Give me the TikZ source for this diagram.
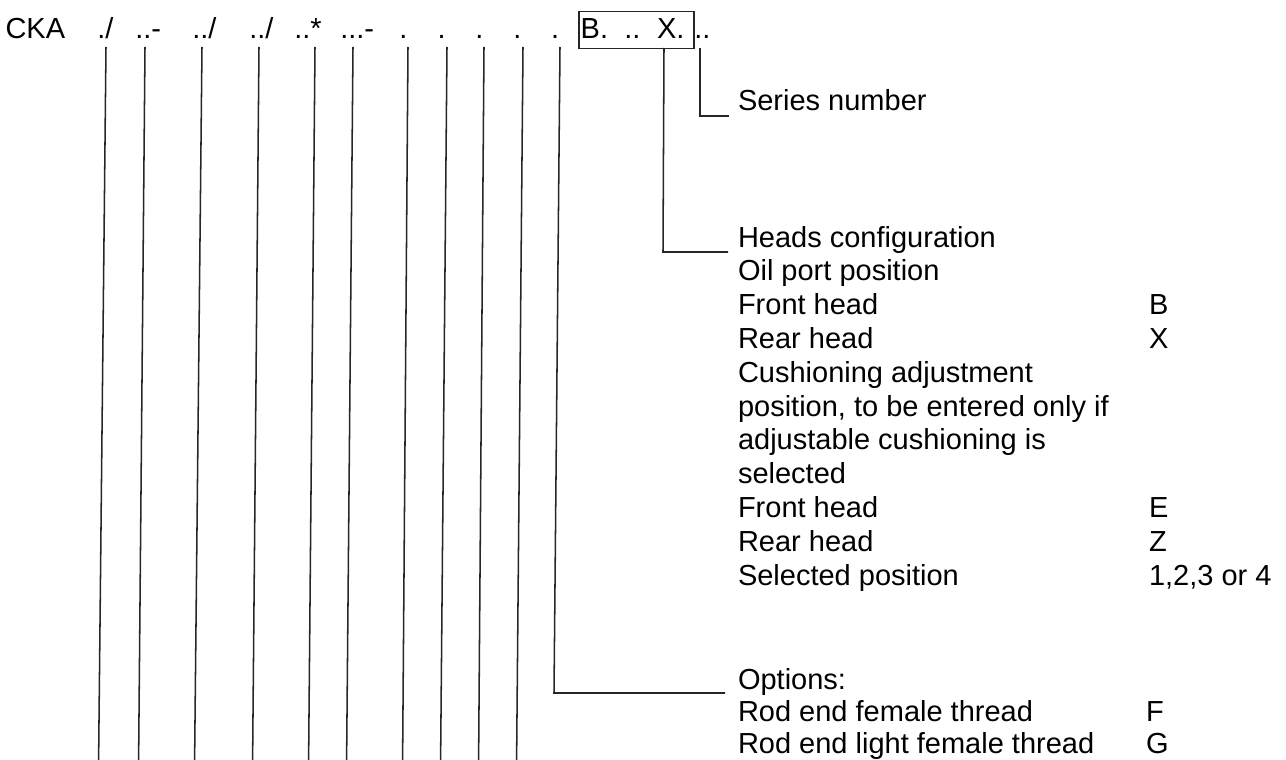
\documentclass[tikz,border=0pt]{standalone}
\usepackage{fontspec}
\setmainfont{Liberation Sans}
\begin{document}
\begin{tikzpicture}[x=0.75pt,y=-0.75pt,
  lbl/.style={anchor=base west, inner sep=0pt, outer sep=0pt, font=\fontsize{21.75pt}{25pt}\selectfont, text=black},
  wire/.style={line width=1.15pt, draw=black!85},
  codebox/.style={draw=black!85, line width=0.9pt, inner sep=0pt, minimum width=86.25pt, minimum height=27.2pt}
]
\useasboundingbox (0,0) rectangle (1286,760);

% ---- top row: order code ----
\node[lbl] (cka) at (5.5,38) {CKA};
\node[lbl] (k1) at (97.3,38) {./};
\node[lbl] (k2) at (135.3,38) {..-};
\node[lbl] (k3) at (192.3,38) {../};
\node[lbl] (k4) at (249.3,38) {../};
\node[lbl] (k5) at (294.3,38) {..*};
\node[lbl] (k6) at (340.3,38) {...-};
\node[lbl] (k7) at (399.3,38) {.};
\node[lbl] (k8) at (437.7,38) {.};
\node[lbl] (k9) at (475.3,38) {.};
\node[lbl] (k10) at (513.3,38) {.};
\node[lbl] (k11) at (551,38) {.};
\node[codebox] (box) at (636.5,30) {};
\node[lbl] (kb) at (580.7,38) {B.};
\node[lbl] (kd) at (624.3,38) {..};
\node[lbl] (kx) at (657,38) {X.};
\node[lbl] (ks) at (694.3,38) {..};

% ---- vertical leaders ----
\foreach \i/\xt/\xb in {1/106/98.6, 2/145/138.6, 3/202/194.6, 4/259/252.6, 5/315/308.6,
                        6/353/346.6, 7/408/402.6, 8/447/440.6, 9/484/478.6, 10/523/516.6} {
  \coordinate (t\i) at (\xt,47);
  \coordinate (b\i) at (\xb,760);
  \draw[wire] (t\i) -- (b\i);
}

% options leader
\coordinate (t11) at (560,47);
\coordinate (c11) at (554,693);
\coordinate (e11) at (725,693);
\draw[wire] (t11) -- (c11) -- (e11);

% heads configuration leader
\coordinate (tx) at (664,48);
\coordinate (cx) at (663,252);
\coordinate (ex) at (728,252);
\draw[wire] (tx) -- (cx) -- (ex);

% series leader
\coordinate (ts) at (700,48);
\coordinate (cs) at (700,116);
\coordinate (es) at (729,116);
\draw[wire] (ts) -- (cs) -- (es);

% ---- descriptions ----
\node[lbl] (series) at (738,110) {Series number};

\node[lbl] (h0) at (738,247) {Heads configuration};
\node[lbl] (h1) at (738,280.8) {Oil port position};
\node[lbl] (h2) at (738,314.6) {Front head};
\node[lbl] (h3) at (738,348.4) {Rear head};
\node[lbl] (h4) at (738,382.2) {Cushioning adjustment};
\node[lbl] (h5) at (738,416) {position, to be entered only if};
\node[lbl] (h6) at (738,449.8) {adjustable cushioning is};
\node[lbl] (h7) at (738,483.6) {selected};
\node[lbl] (h8) at (738,517.4) {Front head};
\node[lbl] (h9) at (738,551.2) {Rear head};
\node[lbl] (h10) at (738,585) {Selected position};

\node[lbl] (v2) at (1149,314.6) {B};
\node[lbl] (v3) at (1149,348.4) {X};
\node[lbl] (v8) at (1149,517.4) {E};
\node[lbl] (v9) at (1149,551.2) {Z};
\node[lbl] (v10) at (1149,585) {1,2,3 or 4};

\node[lbl] (o0) at (738,689) {Options:};
\node[lbl] (o1) at (738,721.5) {Rod end female thread};
\node[lbl] (o2) at (738,753.5) {Rod end light female thread};
\node[lbl] (w1) at (1146,721.5) {F};
\node[lbl] (w2) at (1146,753.5) {G};
\end{tikzpicture}
\end{document}
